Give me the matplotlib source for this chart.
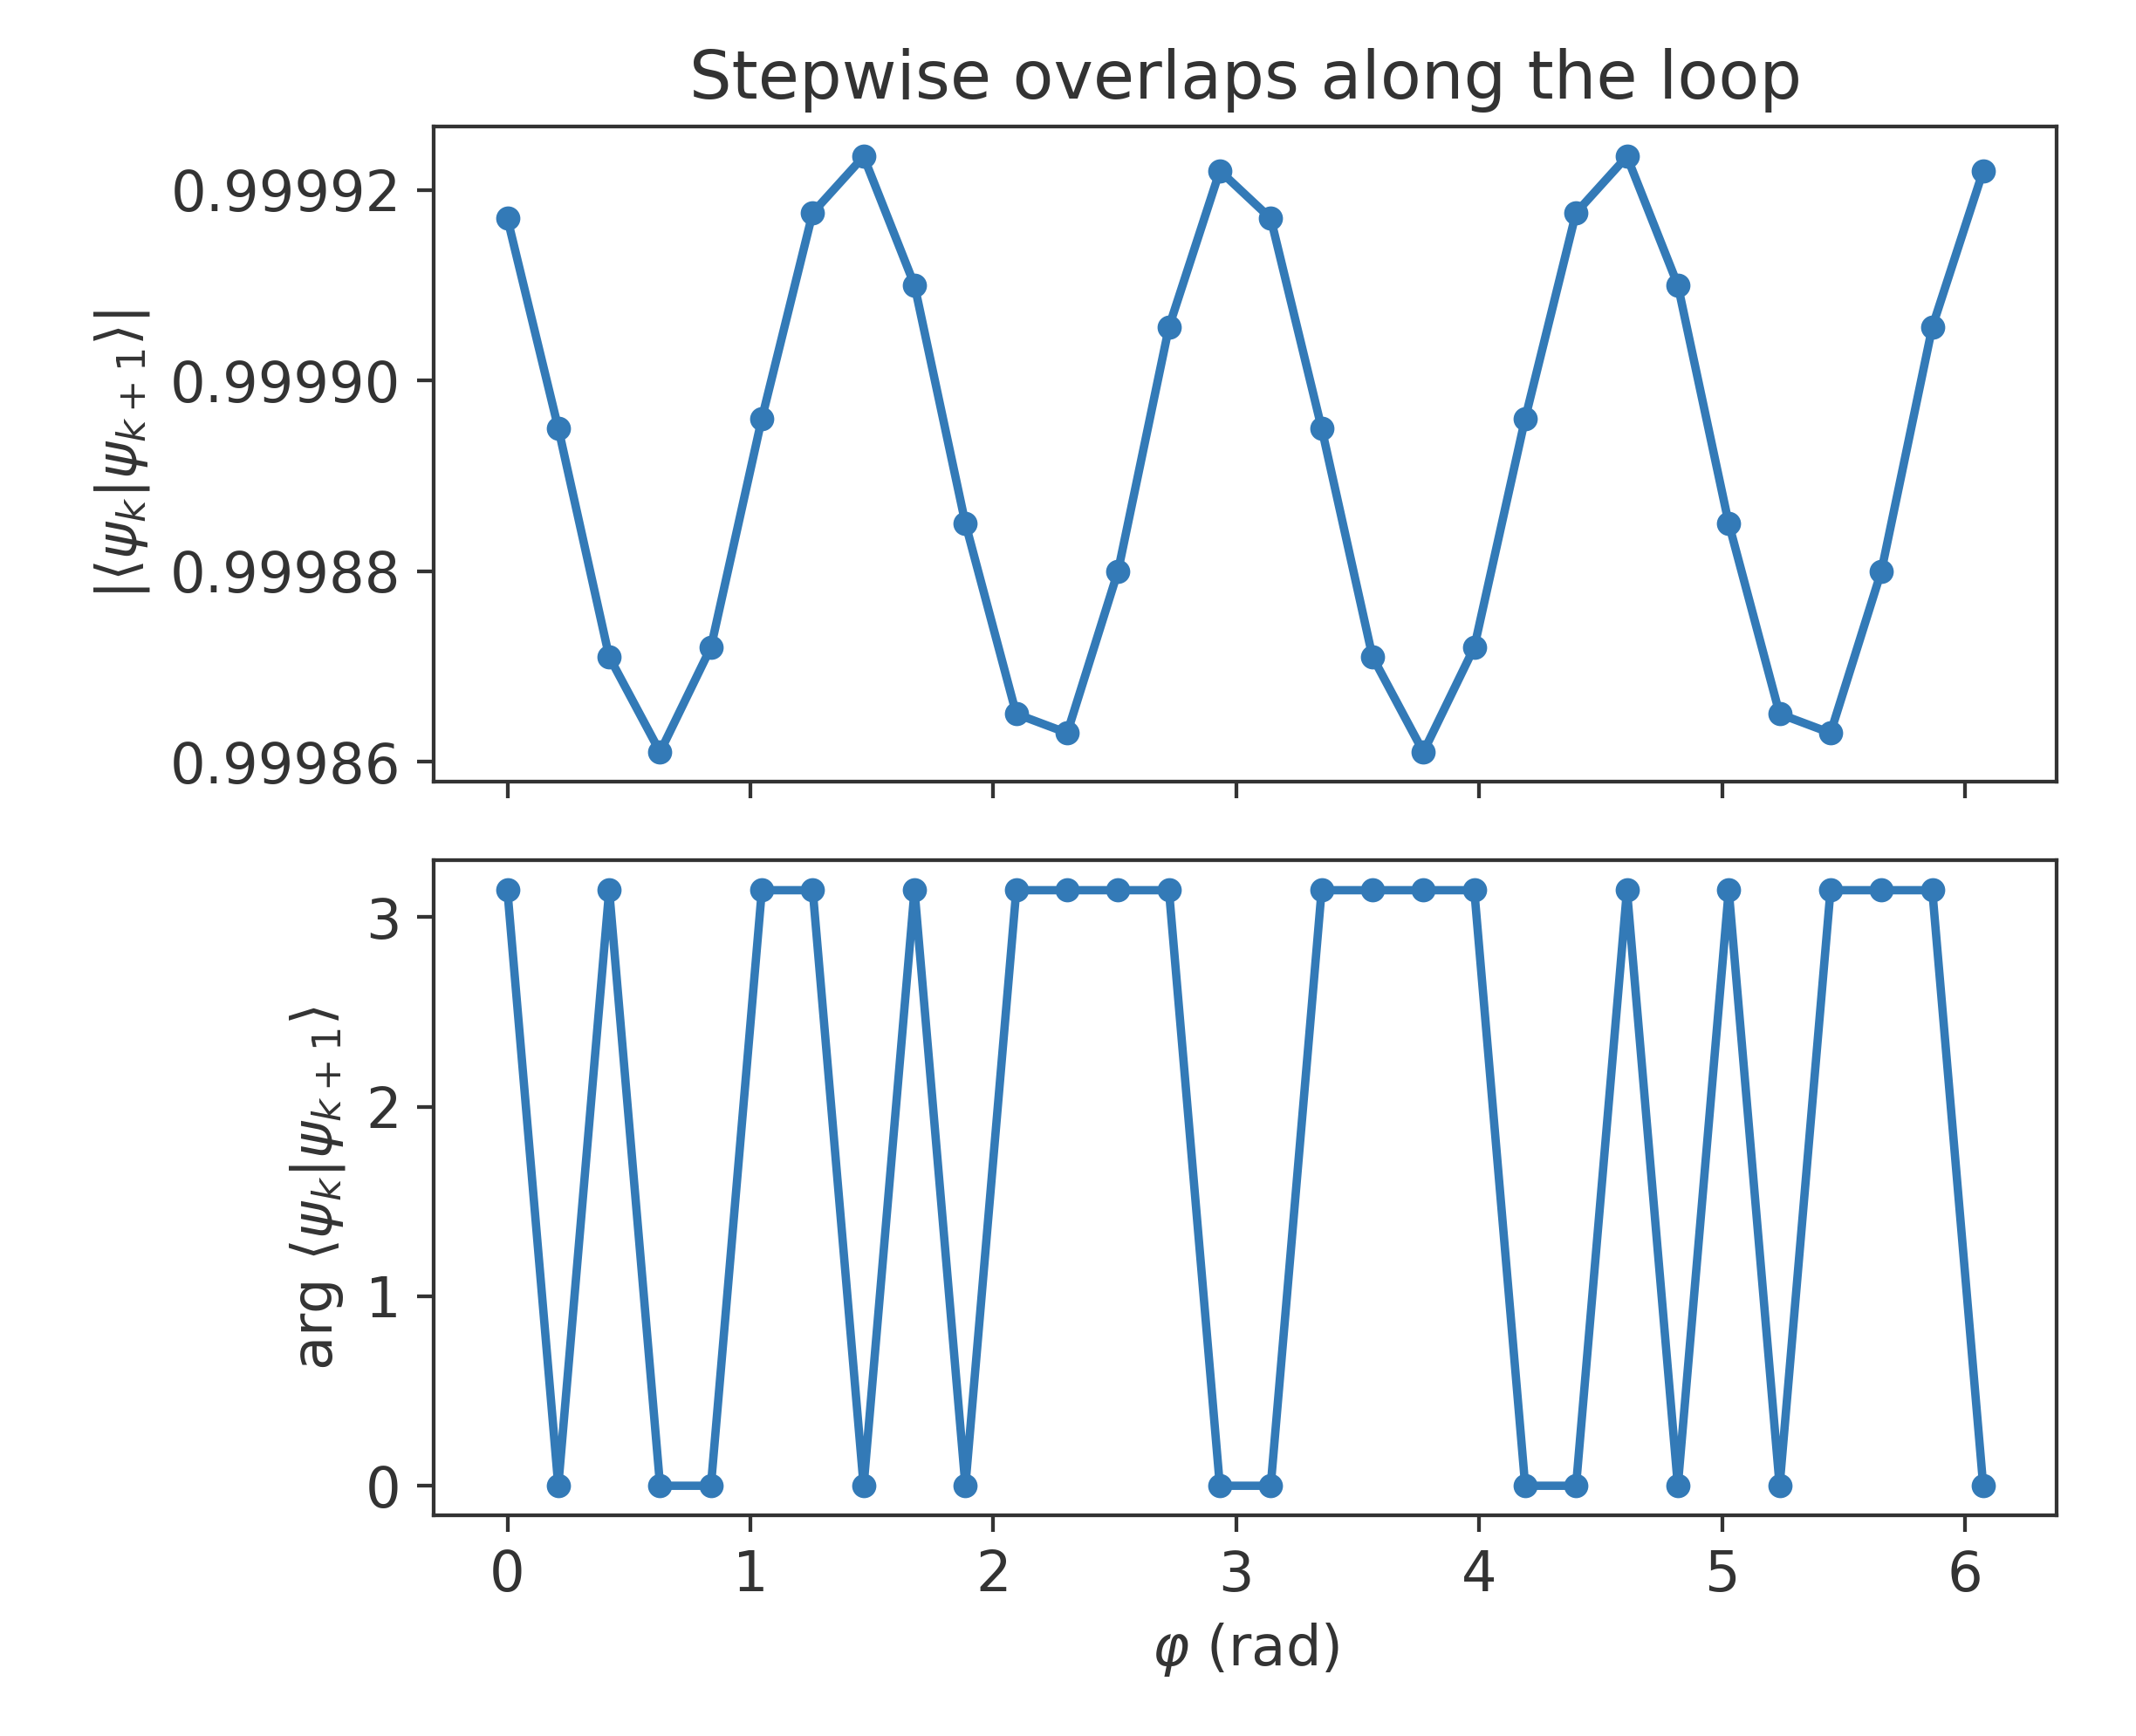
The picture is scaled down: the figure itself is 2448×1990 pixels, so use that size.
import numpy as np
import matplotlib.pyplot as plt

# loop parameter phi_k = 2*pi*k/30
phi = np.arange(30) * 2 * np.pi / 30

# |<psi_k|psi_k+1>|
overlap_abs = [
    0.999917, 0.999895, 0.999871, 0.999861, 0.999872, 0.999896, 0.9999176, 0.9999235,
    0.999910, 0.999885, 0.999865, 0.999863, 0.999880, 0.9999056, 0.999922,
    0.999917, 0.999895, 0.999871, 0.999861, 0.999872, 0.999896, 0.9999176, 0.9999235,
    0.999910, 0.999885, 0.999865, 0.999863, 0.999880, 0.9999056, 0.999922,
]

# arg <psi_k|psi_k+1> (0 or pi)
overlap_arg = [
    np.pi, 0, np.pi, 0, 0, np.pi, np.pi, 0, np.pi, 0,
    np.pi, np.pi, np.pi, np.pi, 0, 0, np.pi, np.pi, np.pi, np.pi,
    0, 0, np.pi, 0, np.pi, 0, np.pi, np.pi, np.pi, 0,
]

TXT = '#333333'
COL = '#337ab7'

plt.rcParams.update({
    'text.color': TXT,
    'axes.labelcolor': TXT,
    'axes.edgecolor': TXT,
    'xtick.color': TXT,
    'ytick.color': TXT,
    'xtick.labelsize': 12,
    'ytick.labelsize': 12,
    'axes.labelsize': 12,
    'axes.titlesize': 14.4,
})

DPI = 384
fig, (ax1, ax2) = plt.subplots(2, 1, sharex=True,
                               figsize=(2448 / DPI, 1990 / DPI), dpi=DPI)
fig.subplots_adjust(left=0.203, right=0.963, top=0.927, bottom=0.127, hspace=0.12)

ax1.plot(phi, overlap_abs, '-o', color=COL, lw=1.8, ms=4.2)
ax1.set_ylabel(r'$|\langle\psi_k|\psi_{k+1}\rangle|$')
ax1.set_title('Stepwise overlaps along the loop')
ax1.ticklabel_format(axis='y', useOffset=False)
ax1.set_yticks([0.99986, 0.99988, 0.99990, 0.99992])
ax1.set_yticklabels(['0.99986', '0.99988', '0.99990', '0.99992'])

ax2.plot(phi, overlap_arg, '-o', color=COL, lw=1.8, ms=4.2)
ax2.set_ylabel(r'$\arg\,\langle\psi_k|\psi_{k+1}\rangle$')
ax2.set_xlabel(r'$\varphi$ (rad)')
ax2.set_yticks([0, 1, 2, 3])

fig.savefig('out.png', dpi=DPI)
